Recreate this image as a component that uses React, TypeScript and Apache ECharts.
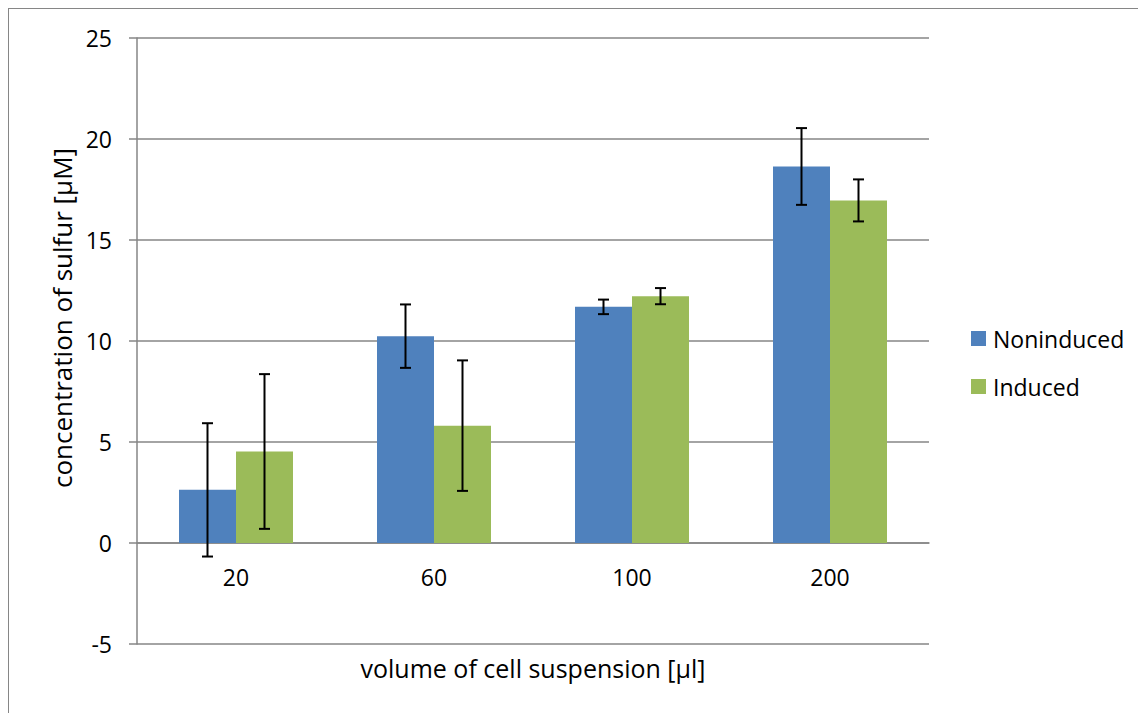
import React, { useEffect, useRef } from "react";
import * as echarts from "echarts";

const categories = ["20", "60", "100", "200"];
const nonInduced = [2.63, 10.24, 11.69, 18.64];
const nonInducedErr = [3.3, 1.57, 0.36, 1.9];
const induced = [4.53, 5.81, 12.22, 16.96];
const inducedErr = [3.83, 3.23, 0.4, 1.04];
const yTicks = { min: -5, max: 25, interval: 5 };

const FONT = "Open Sans";
const BAR_W = 57;
const GRID_H = 606;

function errorSeries(name: string, values: number[], errs: number[], offset: number) {
  return {
    type: "custom",
    name: name + " err",
    silent: true,
    z: 10,
    data: values.map((v, i) => [i, v - errs[i], v + errs[i]]),
    renderItem: (params: any, api: any) => {
      const i = api.value(0);
      const lo = api.coord([i, api.value(1)]);
      const hi = api.coord([i, api.value(2)]);
      const x = lo[0] + offset;
      const cap = 5.5;
      const style = { stroke: "#000", lineWidth: 2 };
      return {
        type: "group",
        children: [
          { type: "line", shape: { x1: x, y1: lo[1], x2: x, y2: hi[1] }, style },
          { type: "line", shape: { x1: x - cap, y1: lo[1], x2: x + cap, y2: lo[1] }, style },
          { type: "line", shape: { x1: x - cap, y1: hi[1], x2: x + cap, y2: hi[1] }, style },
        ],
      };
    },
  };
}

export default function App() {
  const ref = useRef<HTMLDivElement>(null);
  useEffect(() => {
    if (!ref.current) return;
    const chart = echarts.init(ref.current, null, { renderer: "svg" });
    // distance from bottom of grid (y = min) up to y = 0
    const zeroOffset = (GRID_H * (0 - yTicks.min)) / (yTicks.max - yTicks.min);
    chart.setOption({
      animation: false,
      textStyle: { fontFamily: FONT },
      grid: { left: 128, top: 29, width: 792, height: GRID_H, containLabel: false },
      legend: {
        orient: "vertical",
        left: 962,
        top: 318,
        padding: 0,
        itemWidth: 15,
        itemHeight: 15,
        itemGap: 25,
        icon: "rect",
        data: ["Noninduced", "Induced"],
        textStyle: { fontFamily: FONT, fontSize: 23, color: "#000", padding: [0, 0, 0, 2] },
      },
      xAxis: {
        type: "category",
        data: categories,
        offset: -zeroOffset,
        axisLine: { onZero: false, lineStyle: { color: "#868686", width: 1.5 } },
        axisTick: { show: false },
        axisLabel: { fontFamily: FONT, fontSize: 23, color: "#000", margin: 22 },
      },
      yAxis: {
        type: "value",
        min: yTicks.min,
        max: yTicks.max,
        interval: yTicks.interval,
        axisLine: { show: true, lineStyle: { color: "#868686", width: 1.5 } },
        axisTick: { show: true, length: 8, lineStyle: { color: "#868686", width: 1.5 } },
        splitLine: { lineStyle: { color: "#868686", width: 1.5 } },
        axisLabel: { fontFamily: FONT, fontSize: 23, color: "#000", margin: 25 },
      },
      graphic: [
        {
          type: "text",
          x: 524,
          y: 659,
          style: {
            text: "volume of cell suspension [µl]",
            fontFamily: FONT,
            fontSize: 25,
            fill: "#000",
            align: "center",
            verticalAlign: "middle",
          },
        },
        {
          type: "text",
          x: 53,
          y: 309,
          rotation: Math.PI / 2,
          style: {
            text: "concentration of sulfur [μM]",
            fontFamily: FONT,
            fontSize: 26,
            fill: "#000",
            align: "center",
            verticalAlign: "middle",
          },
        },
      ],
      series: [
        {
          type: "bar",
          name: "Noninduced",
          data: nonInduced,
          barWidth: BAR_W,
          barGap: "0%",
          itemStyle: { color: "#4F81BD" },
        },
        {
          type: "bar",
          name: "Induced",
          data: induced,
          barWidth: BAR_W,
          barGap: "0%",
          itemStyle: { color: "#9BBB59" },
        },
        errorSeries("Noninduced", nonInduced, nonInducedErr, -BAR_W / 2),
        errorSeries("Induced", induced, inducedErr, BAR_W / 2),
      ],
    });
    return () => chart.dispose();
  }, []);
  return (
    <div style={{ border: "1px solid #868686", width: 1150, height: 720, boxSizing: "border-box" }}>
      <div ref={ref} style={{ width: 1148, height: 718 }} />
    </div>
  );
}
